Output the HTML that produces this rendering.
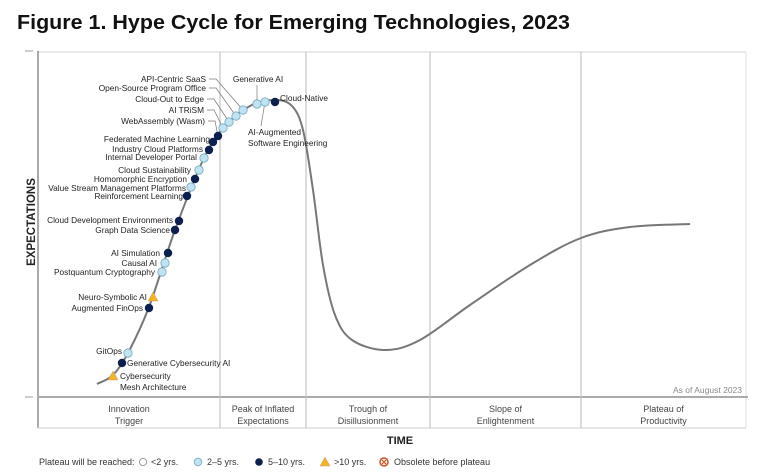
<!DOCTYPE html>
<html><head><meta charset="utf-8"><style>
html,body{margin:0;padding:0;background:#fff;width:761px;height:475px;overflow:hidden}
svg{display:block;font-family:"Liberation Sans",sans-serif}
</style></head><body>
<svg id="chart" width="761" height="475" viewBox="0 0 761 475">
<text x="17" y="29" font-size="20" font-weight="bold" fill="#111" textLength="553" lengthAdjust="spacingAndGlyphs">Figure 1. Hype Cycle for Emerging Technologies, 2023</text>
<g id="frame">
<line x1="38" y1="52" x2="746" y2="52" stroke="#e2e2e2" stroke-width="1.5"/>
<line x1="746" y1="52" x2="746" y2="428" stroke="#e2e2e2" stroke-width="1"/>
<line x1="25" y1="51" x2="33" y2="51" stroke="#bbb" stroke-width="1.5"/>
<line x1="25" y1="397" x2="33" y2="397" stroke="#bbb" stroke-width="1.5"/>
<line x1="38" y1="51" x2="38" y2="428" stroke="#555" stroke-width="1"/>
<line x1="38" y1="428" x2="746" y2="428" stroke="#ddd" stroke-width="1.5"/>
<line x1="38" y1="397" x2="748" y2="397" stroke="#aaa" stroke-width="2"/>
</g>
<g id="phases"></g>
<g id="curve"></g>
<g id="items"></g>
<text x="742" y="393" font-size="8.5" fill="#888" text-anchor="end">As of August 2023</text>
<text transform="translate(35,222) rotate(-90)" font-size="11.5" font-weight="bold" fill="#222" text-anchor="middle">EXPECTATIONS</text>
<text x="400" y="444" font-size="11" font-weight="bold" fill="#222" text-anchor="middle">TIME</text>
<g id="legend">
<text x="39" y="465" font-size="9" fill="#333">Plateau will be reached:</text>
<g><circle cx="143" cy="462" r="3.6" fill="#fff" stroke="#888" stroke-width="0.8"/><text x="151" y="465" font-size="9" fill="#333">&lt;2 yrs.</text></g>
<g><circle cx="198" cy="462" r="3.8" fill="#bfe3f3" stroke="#7ab" stroke-width="0.8"/><text x="207" y="465" font-size="9" fill="#333">2–5 yrs.</text></g>
<g><circle cx="259" cy="462" r="3.8" fill="#0c2050"/><text x="268" y="465" font-size="9" fill="#333">5–10 yrs.</text></g>
<g><polygon points="325,457 330,466 320,466" fill="#f2b41f" stroke="#c98" stroke-width="0.5"/><text x="334" y="465" font-size="9" fill="#333">&gt;10 yrs.</text></g>
<g><circle cx="384" cy="462" r="4" fill="#fff" stroke="#d2521e" stroke-width="1.5"/><path d="M382,460l4,4M386,460l-4,4" stroke="#d2521e" stroke-width="1.2"/><text x="394" y="465" font-size="9" fill="#333">Obsolete before plateau</text></g>
</g>
</svg>
<script>
// Scales: x = time offset from axis origin, y = expectation height above baseline
const X0 = 38, Y0 = 397;
function xScale(v){ return X0 + v; }
function yScale(v){ return Y0 - v; }

// Phase data
const phaseNames = [["Innovation","Trigger"],["Peak of Inflated","Expectations"],["Trough of","Disillusionment"],["Slope of","Enlightenment"],["Plateau of","Productivity"]];
const phaseBounds = [0, 182, 268, 392, 543, 708];

// Hype curve shape (time, expectation)
const curveT = [59,75,90,111,137,166,187,212,237,254,265,275,285,297,314,347,382,432,492,543,592,652];
const curveE = [13,22,44,90,167,239,271,291,297,291,267,207,132,82,57,47,57,92,132,159,170,173];

// Technologies
const techNames = ["Cybersecurity Mesh Architecture","Generative Cybersecurity AI","GitOps","Augmented FinOps","Neuro-Symbolic AI","Postquantum Cryptography","Causal AI","AI Simulation","Graph Data Science","Cloud Development Environments","Reinforcement Learning","Value Stream Management Platforms","Homomorphic Encryption","Cloud Sustainability","Internal Developer Portal","Industry Cloud Platforms","Federated Machine Learning","WebAssembly (Wasm)","AI TRiSM","Cloud-Out to Edge","Open-Source Program Office","API-Centric SaaS","Generative AI","AI-Augmented Software Engineering","Cloud-Native"];
const techT = [75,84,90,111,115,124,127,130,137,141,149,153,157,161,166,171,175,180,185,191,198,205,219,227,237];
const techE = [21,34,44,89,100,125,134,144,167,176,201,210,218,227,239,247,255,261,269,275,281,287,293,295,295];
const techCat = ["t","d","l","d","t","l","l","d","d","d","d","l","d","l","l","d","d","d","l","l","l","l","l","l","d"];

// Label layout (pixel positions for label text; [x, y, anchor, leader?])
const labelLayout = [
 [120,379,"start"],[127,366,"start"],[122,354,"end"],[143,311,"end"],[147,300,"end"],
 [155,275,"end"],[157,266,"end"],[160,256,"end"],[170,233,"end"],[173,223,"end"],
 [183,199,"end"],[186,191,"end"],[187,182,"end"],[191,173,"end"],[197,160,"end"],
 [203,152,"end"],[210,142,"end"],[205,124,"end","L"],[204,113,"end","L"],[204,102,"end","L"],
 [206,91,"end","L"],[206,82,"end","L"],[258,82,"middle","V"],[248,135,"start","A"],[280,101,"start"]
];

const NS = "http://www.w3.org/2000/svg";
function mk(tag, attrs, parent){ const e=document.createElementNS(NS,tag); for(const k in attrs) e.setAttribute(k,attrs[k]); parent.appendChild(e); return e; }

// Phases
const ph = document.getElementById("phases");
phaseNames.forEach((nm,i)=>{
  const g = mk("g",{},ph);
  
  
  const cx = xScale((phaseBounds[i]+phaseBounds[i+1])/2);
  if(i>0){ mk("line",{x1:xScale(phaseBounds[i]),y1:52,x2:xScale(phaseBounds[i]),y2:428,stroke:"#c4c4c4","stroke-width":1.2},g); }
  mk("text",{x:cx,y:412,"font-size":9,fill:"#444","text-anchor":"middle"},g).textContent = nm[0];
  mk("text",{x:cx,y:424,"font-size":9,fill:"#444","text-anchor":"middle"},g).textContent = nm[1];
});

// Curve (Catmull-Rom)
const pts = curveT.map((t,i)=>[xScale(t), yScale(curveE[i])]);
let d = "M"+pts[0][0]+","+pts[0][1];
for(let i=0;i<pts.length-1;i++){
  const p0=pts[Math.max(0,i-1)],p1=pts[i],p2=pts[i+1],p3=pts[Math.min(pts.length-1,i+2)];
  const c1=[p1[0]+(p2[0]-p0[0])/6,p1[1]+(p2[1]-p0[1])/6];
  const c2=[p2[0]-(p3[0]-p1[0])/6,p2[1]-(p3[1]-p1[1])/6];
  d+=" C"+c1.join(",")+" "+c2.join(",")+" "+p2.join(",");
}
const cp = mk("path",{d:d,fill:"none",stroke:"#777","stroke-width":2},document.getElementById("curve"));



// Items
const it = document.getElementById("items");
techNames.forEach((nm,i)=>{
  const g = mk("g",{},it);
  
  
  const x = xScale(techT[i]), y = yScale(techE[i]);
  const L = labelLayout[i];
  if(L[3]==="L"){ mk("polyline",{points:(L[0]+3)+","+(L[1]-3)+" "+(L[0]+10)+","+(L[1]-3)+" "+x+","+y,fill:"none",stroke:"#777","stroke-width":0.7},g); }
  if(L[3]==="V"){ mk("line",{x1:x,y1:L[1]+3,x2:x,y2:y,stroke:"#777","stroke-width":0.7},g); }
  if(L[3]==="A"){ mk("line",{x1:x,y1:y,x2:L[0]+13,y2:L[1]-9,stroke:"#777","stroke-width":0.7},g); }
  const c = techCat[i];
  if(c==="t"){ mk("polygon",{points:x+","+(y-5)+" "+(x+5)+","+(y+4)+" "+(x-5)+","+(y+4),fill:"#f2b41f",stroke:"#c98","stroke-width":0.5},g); }
  else if(c==="d"){ mk("circle",{cx:x,cy:y,r:4.2,fill:"#0c2050"},g); }
  else { mk("circle",{cx:x,cy:y,r:4.2,fill:"#bfe3f3",stroke:"#7ab","stroke-width":0.8},g); }
  const words = nm==="AI-Augmented Software Engineering" ? ["AI-Augmented","Software Engineering"] : nm==="Cybersecurity Mesh Architecture" ? ["Cybersecurity","Mesh Architecture"] : [nm];
  words.forEach((w,k)=>{
    mk("text",{x:L[0],y:L[1]+k*11,"font-size":8.3,fill:"#222","text-anchor":L[2]},g).textContent = w;
  });
});
</script>
</body></html>
